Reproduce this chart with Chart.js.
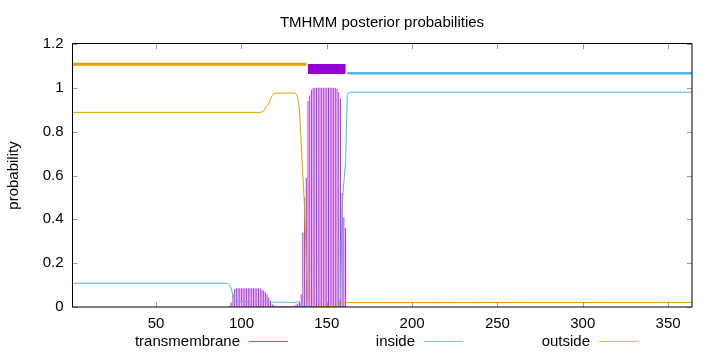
<!DOCTYPE html>
<html><head><meta charset="utf-8">
<script src="https://cdn.jsdelivr.net/npm/chart.js@4/dist/chart.umd.min.js"></script>
<style>
html,body{margin:0;padding:0;background:#fff;}
#wrap{position:relative;width:720px;height:352px;font-family:"Liberation Sans",Arial,sans-serif;color:#000;}
canvas{position:absolute;left:0;top:0;}
.t{position:absolute;font-size:15px;line-height:15px;white-space:nowrap;}
.k{position:absolute;height:1px;width:39px;}
</style></head><body>
<div id="wrap">
<canvas id="c" width="720" height="352"></canvas>
<div class="t" id="title" style="left:72px;width:620px;text-align:center;top:14px;"></div>
<div id="legend"></div>
</div>
<script>
const chartTitle = "TMHMM posterior probabilities";
const yAxisTitle = "probability";
const seqLength = 364;
const xTicks = [50, 100, 150, 200, 250, 300, 350];
const yTicks = [0, 0.2, 0.4, 0.6, 0.8, 1, 1.2];
const seriesNames = ["transmembrane", "inside", "outside"];
const seriesColors = ["#9400d3", "#56b4e9", "#e69f00"];

// transmembrane posterior probability (drawn as impulses), residues with visible values
const tmResidue = [93,94,95,96,97,98,99,100,101,102,103,104,105,106,107,108,109,110,
  111,112,113,114,115,116,117,118,119,120,121,122,123,124,125,126,127,128,129,130,
  131,132,133,134,135,136,137,138,139,140,141,142,143,144,145,146,147,148,149,150,
  151,152,153,154,155,156,157,158,159,160,161];
const tmProb = [0.006,0.02,0.06,0.082,0.085,0.086,0.086,0.086,0.086,0.086,0.086,0.086,0.086,0.086,0.086,0.086,0.086,0.086,
  0.085,0.08,0.075,0.068,0.058,0.045,0.03,0.015,0.008,0.005,0.004,0.004,0.004,0.004,0.004,0.004,0.004,0.004,0.004,0.005,
  0.006,0.01,0.016,0.024,0.058,0.34,0.50,0.59,0.94,0.965,0.99,0.998,1,1,1,1,1,1,1,1,
  1,1,1,1,0.999,0.995,0.98,0.95,0.52,0.41,0.36];

// inside posterior probability (line)
const insideResidue = [1,91,92,93,94,95,96,97,98,112,118,131,132,133,134,135,136,157,158,159,160,161,162,163,364];
const insideProb = [0.108,0.108,0.107,0.1,0.085,0.055,0.035,0.027,0.025,0.025,0.022,0.021,0.022,0.025,0.02,0.008,0.002,0.002,0.04,0.46,0.57,0.66,0.97,0.98,0.98];

// outside posterior probability (line)
const outsideResidue = [1,111,112,113,114,115,116,117,118,119,120,131,132,133,134,135,136,137,138,139,140,141,156,157,158,159,364];
const outsideProb = [0.888,0.888,0.89,0.896,0.908,0.918,0.926,0.948,0.966,0.973,0.976,0.976,0.972,0.955,0.9,0.75,0.6,0.45,0.2,0.04,0.01,0.002,0.002,0.004,0.012,0.02,0.021];

// predicted topology segments [first residue, last residue]
const outsideSegment = [1, 138];
const tmSegment = [139, 161];
const insideSegment = [162, 364];

const FONT = '"Liberation Sans", Arial, sans-serif';
document.getElementById('title').textContent = chartTitle;

// legend (gnuplot style: text, then sample line)
const legendRight = [240, 415, 590];
const legend = document.getElementById('legend');
seriesNames.forEach((n, i) => {
  const t = document.createElement('div');
  t.className = 't';
  t.textContent = n;
  t.style.right = (720 - legendRight[i]) + 'px';
  t.style.top = '333px';
  t.style.textAlign = 'right';
  legend.appendChild(t);
  const k = document.createElement('div');
  k.className = 'k';
  k.style.left = (legendRight[i] + 9) + 'px';
  k.style.top = '341px';
  k.style.background = seriesColors[i];
  k.style.opacity = '0.75';
  legend.appendChild(k);
});

const pts = (xs, ys) => xs.map((x, i) => ({x: x, y: ys[i]}));
const seg = (s, level) => [{x: s[0], y: level}, {x: s[1], y: level}];

const frame = {
  id: 'frame',
  afterDatasetsDraw(chart) {
    const {ctx, chartArea: a, scales: {x, y}} = chart;
    ctx.save();
    ctx.strokeStyle = '#9a9a9a';
    ctx.lineWidth = 1;
    ctx.beginPath();
    xTicks.forEach(v => {
      const p = Math.round(x.getPixelForValue(v)) + 0.5;
      ctx.moveTo(p, a.bottom); ctx.lineTo(p, a.bottom - 5);
      ctx.moveTo(p, a.top); ctx.lineTo(p, a.top + 5);
    });
    yTicks.forEach(v => {
      const p = Math.round(y.getPixelForValue(v)) + 0.5;
      ctx.moveTo(a.left, p); ctx.lineTo(a.left + 5, p);
      ctx.moveTo(a.right, p); ctx.lineTo(a.right - 5, p);
    });
    ctx.stroke();
    ctx.strokeStyle = '#000';
    ctx.beginPath();
    ctx.moveTo(a.left, a.top - 0.5); ctx.lineTo(a.right, a.top - 0.5);
    ctx.moveTo(a.left, a.top - 0.5); ctx.lineTo(a.left, a.bottom);
    ctx.moveTo(a.left, a.bottom); ctx.lineTo(a.right, a.bottom);
    ctx.moveTo(a.right, a.top - 0.5); ctx.lineTo(a.right, a.bottom);
    ctx.stroke();
    ctx.restore();
  }
};

new Chart(document.getElementById('c'), {
  type: 'line',
  data: {
    datasets: [
      {type: 'bar', label: seriesNames[0], data: pts(tmResidue, tmProb),
       backgroundColor: 'rgba(148,0,211,0.8)', barThickness: 1, inflateAmount: 0, borderWidth: 0, order: 5},
      {label: seriesNames[1], data: pts(insideResidue, insideProb), borderColor: seriesColors[1],
       borderWidth: 1, pointRadius: 0, tension: 0, fill: false, order: 3},
      {label: seriesNames[2], data: pts(outsideResidue, outsideProb), borderColor: seriesColors[2],
       borderWidth: 1, pointRadius: 0, tension: 0, fill: false, order: 2},
      {label: 'outside segment', data: seg(outsideSegment, 1.108), borderColor: seriesColors[2],
       borderWidth: 3, pointRadius: 0, fill: false, order: 1},
      {label: 'TM segment', data: seg(tmSegment, 1.086), borderColor: seriesColors[0],
       borderWidth: 10, pointRadius: 0, fill: false, order: 1},
      {label: 'inside segment', data: seg(insideSegment, 1.067), borderColor: seriesColors[1],
       borderWidth: 2.5, pointRadius: 0, fill: false, order: 1}
    ]
  },
  options: {
    responsive: false,
    animation: false,
    devicePixelRatio: 1,
    layout: {padding: {left: 0, right: 28, top: 44, bottom: 15}},
    plugins: {legend: {display: false}, title: {display: false}, tooltip: {enabled: false}},
    scales: {
      x: {
        type: 'linear', min: 1, max: seqLength, offset: false,
        grid: {display: false, drawTicks: false}, border: {display: false},
        ticks: {padding: 8, color: '#000', font: {family: FONT, size: 15}, maxRotation: 0, autoSkip: false},
        afterBuildTicks: s => { s.ticks = xTicks.map(v => ({value: v})); },
        afterFit: s => { s.height = 30; }
      },
      y: {
        type: 'linear', min: 0, max: 1.2,
        grid: {display: false, drawTicks: false}, border: {display: false},
        ticks: {padding: 9, color: '#000', font: {family: FONT, size: 15},
                callback: v => String(parseFloat(Number(v).toFixed(2)))},
        afterBuildTicks: s => { s.ticks = yTicks.map(v => ({value: v})); },
        afterFit: s => { s.width = 72.5; },
        title: {display: true, text: yAxisTitle, color: '#000', font: {family: FONT, size: 15}, padding: {top: 5, bottom: 0}}
      }
    }
  },
  plugins: [frame]
});
</script>
</body></html>
